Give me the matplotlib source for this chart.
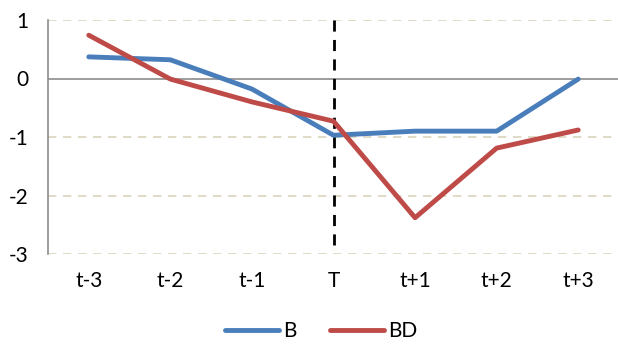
import matplotlib
matplotlib.use("Agg")
import matplotlib.pyplot as plt
import numpy as np

categories = ["t-3", "t-2", "t-1", "T", "t+1", "t+2", "t+3"]
b_values = [0.37, 0.32, -0.18, -0.97, -0.90, -0.90, -0.01]
bd_values = [0.74, -0.01, -0.40, -0.73, -2.38, -1.19, -0.88]

plt.rcParams["font.family"] = ["Lato", "DejaVu Sans"]

fig = plt.figure(figsize=(6.18, 3.51), dpi=100)
ax = fig.add_axes([48 / 618, 1 - 254 / 351, (619 - 48) / 618, 234 / 351])

x = np.arange(len(categories))
ax.set_xlim(-0.5, len(categories) - 0.5)
ax.set_ylim(-3, 1)

# dashed gridlines
for yv in [1, -1, -2, -3]:
    ax.axhline(yv, color="#d9d4bb", linestyle=(0, (5, 4)), linewidth=1.2, zorder=1)
ax.axhline(0, color="#8c8c8c", linewidth=1.2, zorder=1)

# vertical marker at T
ax.plot([3, 3], [1, -2.9], color="black", linestyle=(0, (4, 3)), linewidth=2, zorder=2)

ax.plot(x, b_values, color="#4a7ebb", linewidth=3.5, label="B", zorder=3,
        solid_capstyle="round")
ax.plot(x, bd_values, color="#be4b48", linewidth=3.5, label="BD", zorder=4,
        solid_capstyle="round")

ax.set_xticks(x)
ax.set_xticklabels(categories, fontsize=15)
ax.set_yticks([1, 0, -1, -2, -3])
ax.set_yticklabels(["1", "0", "-1", "-2", "-3"], fontsize=15)
ax.tick_params(axis="x", length=0, pad=12)
ax.tick_params(axis="y", length=0, pad=14)

for side in ["top", "right", "bottom"]:
    ax.spines[side].set_visible(False)
ax.spines["left"].set_color("#8c8c8c")
ax.spines["left"].set_linewidth(1.2)

leg = fig.legend(loc="lower center", bbox_to_anchor=(0.52, -0.025), ncol=2,
                 frameon=False, fontsize=15, handlelength=2.6,
                 handletextpad=0.2, columnspacing=1.6)

fig.savefig("out.png", dpi=100)
